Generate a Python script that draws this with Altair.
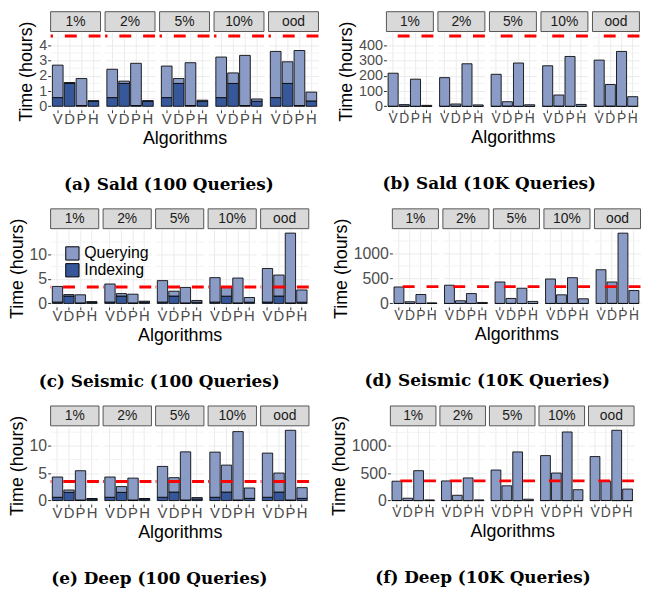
import altair as alt
import pandas as pd

SPLITS = ["1%", "2%", "5%", "10%", "ood"]
ALGOS = ["V", "D", "P", "H"]
COMPONENTS = ["Querying", "Indexing"]
COLORS = ["#8a9bc5", "#36589a"]

# values per split (rows: 1%, 2%, 5%, 10%, ood), columns: V, D, P, H  (hours)
sald100_idx = [[0.57, 1.50, 0.05, 0.33], [0.57, 1.50, 0.05, 0.33], [0.57, 1.50, 0.05, 0.33],
               [0.57, 1.50, 0.05, 0.33], [0.57, 1.50, 0.05, 0.35]]
sald100_qry = [[2.13, 0.06, 1.77, 0.04], [1.86, 0.15, 2.77, 0.04], [2.07, 0.32, 2.81, 0.07],
               [2.66, 0.69, 3.29, 0.15], [3.03, 1.42, 3.61, 0.58]]
sald10k_qry = [[216.4, 9.5, 177.9, 5.7], [187.4, 13.5, 278.9, 8.7], [209.4, 28.5, 283.9, 9.7],
               [265.4, 72.5, 326.9, 11.7], [302.4, 141.5, 359.9, 62.7]]

seis100_idx = [[0.27, 1.50, 0.10, 0.25], [0.27, 1.50, 0.10, 0.25], [0.27, 1.50, 0.10, 0.25],
               [0.27, 1.47, 0.10, 0.25], [0.27, 1.50, 0.10, 0.25]]
seis100_qry = [[3.18, 0.30, 1.65, 0.10], [3.68, 0.50, 1.78, 0.20], [4.37, 0.98, 3.15, 0.35],
               [4.97, 1.88, 5.06, 0.95], [6.83, 4.27, 14.20, 2.49]]
seis10k_qry = [[329.7, 32.5, 178.9, 9.8], [364.7, 52.5, 197.9, 19.8], [429.7, 98.5, 304.9, 39.8],
               [489.7, 171.5, 515.9, 92.8], [674.7, 428.5, 1408.9, 257.8]]

deep100_idx = [[0.60, 1.50, 0.10, 0.30], [0.60, 1.50, 0.10, 0.30], [0.60, 1.55, 0.10, 0.30],
               [0.60, 1.55, 0.10, 0.40], [0.60, 1.55, 0.10, 0.40]]
deep100_qry = [[3.70, 0.43, 5.35, 0.06], [3.70, 1.05, 4.00, 0.06], [5.64, 2.63, 8.80, 0.25],
               [8.25, 4.93, 12.50, 1.90], [8.07, 3.48, 12.74, 1.96]]
deep10k_qry = [[354.4, 41.5, 547.9, 11.7], [359.4, 95.5, 414.9, 11.7], [559.4, 269.5, 891.9, 24.7],
               [824.4, 503.5, 1257.9, 198.6], [806.4, 350.5, 1288.9, 210.6]]

# red dashed reference line per panel
thresholds = {"a": 4.61, "b": 461, "c": 3.35, "d": 337, "e": 3.5, "f": 361}
captions = {"a": "(a) Sald (100 Queries)", "b": "(b) Sald (10K Queries)",
            "c": "(c) Seismic (100 Queries)", "d": "(d) Seismic (10K Queries)",
            "e": "(e) Deep (100 Queries)", "f": "(f) Deep (10K Queries)"}
y_domains = {"a": [-0.23, 4.84], "b": [-23, 484], "c": [-0.715, 15.0],
             "d": [-70, 1479], "e": [-0.64, 13.48], "f": [-64, 1353]}
major_ticks = {"a": [0, 1, 2, 3, 4], "b": [0, 100, 200, 300, 400], "c": [0, 5, 10],
               "d": [0, 500, 1000], "e": [0, 5, 10], "f": [0, 500, 1000]}
minor_ticks = {"a": [0.5, 1.5, 2.5, 3.5, 4.5], "b": [50, 150, 250, 350, 450], "c": [2.5, 7.5, 12.5],
               "d": [250, 750, 1250], "e": [2.5, 7.5, 12.5], "f": [250, 750, 1250]}
cell_widths = {"a": 50.4, "b": 47.4, "c": 48.6, "d": 46.5, "e": 48.8, "f": 46}
xlabel_sizes = {"a": 15, "b": 14, "c": 15, "d": 14, "e": 15, "f": 14}
ylabel_sizes = {"a": 14.5, "b": 14.5, "c": 16, "d": 16, "e": 16, "f": 16}

PLOT_H = 78
FONT = "Liberation Sans"


def make_df(si, idx, qry, minors):
    rows = []
    s = SPLITS[si]
    for ai, a in enumerate(ALGOS):
        rows.append(dict(split=s, algo=a, component="Indexing", hours=idx[si][ai], ord=0, kind="bar"))
        rows.append(dict(split=s, algo=a, component="Querying", hours=qry[si][ai], ord=1, kind="bar"))
    for m in minors:
        rows.append(dict(split=s, kind="grid", gy=m))
    return pd.DataFrame(rows)


legend = alt.Legend(title=None, orient="none", legendX=14, legendY=215, symbolType="square",
                    symbolSize=180, symbolStrokeColor="black", symbolStrokeWidth=1,
                    labelFontSize=16, labelFont=FONT, labelColor="black", rowPadding=-2,
                    padding=0, labelOffset=4)


def cell(key, si, idx, qry):
    df = make_df(si, idx, qry, minor_ticks[key])
    w = cell_widths[key]
    first = si == 0
    middle = si == 2
    yscale = alt.Scale(domain=y_domains[key], nice=False, zero=False)
    one = "datum.kind == 'bar' && datum.algo == 'V' && datum.component == 'Querying'"

    if first:
        yaxis = alt.Axis(title="Time (hours)", values=major_ticks[key], grid=True,
                         labelOverlap=False, labelSeparation=0, labelBound=False,
                         format="d", labelPadding=1, titlePadding=3,
                         labelFontSize=ylabel_sizes[key])
    else:
        yaxis = alt.Axis(title=None, values=major_ticks[key], grid=True, labels=False,
                         ticks=False)

    grid = alt.Chart().transform_filter("datum.kind == 'grid'").mark_rule(
        color="#f3f3f3", strokeWidth=1).encode(y=alt.Y("gy:Q", scale=yscale, axis=yaxis))

    bars = alt.Chart().transform_filter("datum.kind == 'bar'").mark_bar(
        stroke="black", strokeWidth=1, strokeOpacity=0.85).encode(
        x=alt.X("algo:N", sort=ALGOS,
                scale=alt.Scale(domain=ALGOS, paddingInner=0.1, paddingOuter=0.15),
                axis=alt.Axis(title="Algorithms" if middle else None, labelAngle=0,
                              bandPosition=0.5, grid=True, ticks=True, labelPadding=-1,
                              titlePadding=3, labelOverlap=False,
                              labelFontSize=xlabel_sizes[key])),
        y=alt.Y("hours:Q", stack="zero", scale=yscale, axis=yaxis),
        color=alt.Color("component:N", scale=alt.Scale(domain=COMPONENTS, range=COLORS),
                        legend=legend),
        order=alt.Order("ord:Q"),
    )

    rule = alt.Chart().transform_filter(one).mark_rule(
        color="#ff0000", strokeDash=[12, 12], strokeWidth=3).encode(
        y=alt.YDatum(thresholds[key], scale=yscale, axis=yaxis))

    strip = alt.Chart().transform_filter(one).mark_rect(
        fill="#d9d9d9", stroke="#555555", strokeWidth=1).encode(
        x=alt.value(0), x2=alt.value(w), y=alt.value(-21), y2=alt.value(-1))

    label = alt.Chart().transform_filter(one).mark_text(
        fontSize=14, font=FONT, color="#1a1a1a", align="center", baseline="middle").encode(
        x=alt.value(w / 2), y=alt.value(-11), text="split:N")

    return alt.layer(grid, bars, rule, strip, label, data=df).properties(width=w, height=PLOT_H)


def panel(key, idx, qry):
    cells = [cell(key, si, idx, qry) for si in range(len(SPLITS))]
    row = alt.hconcat(*cells, spacing=4, bounds="flush")
    return alt.vconcat(row, title=alt.TitleParams(
        captions[key], orient="bottom", anchor="middle", frame="bounds",
        font="DejaVu Serif", fontWeight="bold", fontSize=17, color="black", offset=30))


pa = panel("a", sald100_idx, sald100_qry)
pb = panel("b", sald100_idx, sald10k_qry)
pc = panel("c", seis100_idx, seis100_qry)
pd_ = panel("d", seis100_idx, seis10k_qry)
pe = panel("e", deep100_idx, deep100_qry)
pf = panel("f", deep100_idx, deep10k_qry)

chart = alt.vconcat(
    alt.hconcat(pa, pb, spacing=17),
    alt.hconcat(pc, pd_, spacing=21),
    alt.hconcat(pe, pf, spacing=19),
    spacing=15,
).properties(padding={"left": 0, "top": 0, "right": 0, "bottom": 0}).configure_view(
    stroke=None).configure_axis(
    domain=False, labelFont=FONT, labelFontSize=16, labelColor="#4d4d4d",
    titleFont=FONT, titleFontSize=18, titleFontWeight="normal", titleColor="black",
    tickColor="#333333", tickSize=3, labelPadding=2, titlePadding=6,
    gridColor="#ebebeb", gridWidth=1)

chart.save("out.html", embed_options={"renderer": "svg", "actions": False})
